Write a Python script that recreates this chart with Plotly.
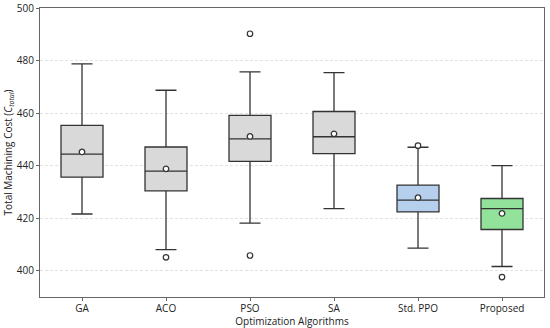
import plotly.graph_objects as go

categories = ["GA", "ACO", "PSO", "SA", "Std. PPO", "Proposed"]
q1 = [435.6, 430.4, 441.6, 444.6, 422.4, 415.7]
median = [444.4, 437.9, 450.2, 451.0, 426.9, 423.6]
q3 = [455.3, 447.1, 459.1, 460.6, 432.6, 427.5]
lower_whisker = [421.6, 408.0, 418.1, 423.6, 408.6, 401.6]
upper_whisker = [478.7, 468.7, 475.7, 475.4, 447.0, 440.0]
means = [445.2, 438.8, 451.1, 452.1, 427.8, 421.8]
outlier_cat = ["ACO", "PSO", "PSO", "Std. PPO", "Proposed"]
outlier_val = [405.1, 490.2, 405.8, 447.6, 397.6]
fills = ["#d9d9d9", "#d9d9d9", "#d9d9d9", "#d9d9d9", "#b5cfec", "#92e29c"]

edge = "#333333"
fig = go.Figure()
for i, c in enumerate(categories):
    fig.add_trace(go.Box(
        x=[c], q1=[q1[i]], median=[median[i]], q3=[q3[i]],
        lowerfence=[lower_whisker[i]], upperfence=[upper_whisker[i]],
        fillcolor=fills[i], line=dict(color=edge, width=1.3),
        width=0.5, whiskerwidth=0.5, boxpoints=False, showlegend=False,
        hoverinfo="skip",
    ))

fig.add_trace(go.Scatter(
    x=outlier_cat, y=outlier_val, mode="markers",
    marker=dict(symbol="circle", size=5.5, color="white",
                line=dict(color=edge, width=1.2)),
    showlegend=False,
))
fig.add_trace(go.Scatter(
    x=categories, y=means, mode="markers",
    marker=dict(symbol="circle", size=5.5, color="white",
                line=dict(color=edge, width=1.3)),
    showlegend=False,
))

font_family = "Open Sans, Lato, sans-serif"
fig.update_layout(
    width=550, height=328,
    margin=dict(l=40, r=6, t=8, b=31),
    paper_bgcolor="white", plot_bgcolor="white",
    boxmode="overlay",
    font=dict(family=font_family, size=10, color="#222222"),
    xaxis=dict(
        categoryorder="array", categoryarray=categories,
        range=[-0.5, 5.5], automargin=False,
        showline=True, mirror=True, linecolor="#666666", linewidth=1,
        ticks="outside", ticklen=3, tickcolor="#666666",
        showgrid=False, ticklabelstandoff=-1,
        title=dict(text="Optimization Algorithms", standoff=0,
                   font=dict(size=10)),
        tickfont=dict(size=10),
    ),
    yaxis=dict(
        range=[390, 500], automargin=False,
        tickvals=[400, 420, 440, 460, 480, 500],
        showline=True, mirror=True, linecolor="#666666", linewidth=1,
        ticks="outside", ticklen=3, tickcolor="#666666",
        showgrid=True, gridcolor="#e2e2e2", griddash="3px,2px", gridwidth=0.8,
        zeroline=False,
        title=dict(text="Total Machining Cost (<i>C</i><sub><i>total</i></sub>)",
                   standoff=2, font=dict(size=10)),
        tickfont=dict(size=10),
    ),
)

fig.write_html("out.html", config={"displayModeBar": False},
               post_script="document.body.style.margin='0px';")
